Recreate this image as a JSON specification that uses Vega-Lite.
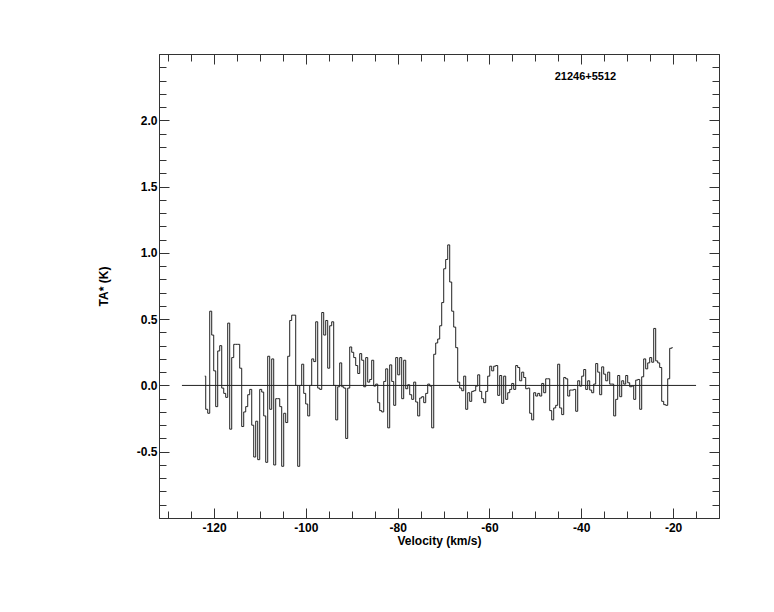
{
  "$schema": "https://vega.github.io/schema/vega-lite/v6.json",
  "width": 560,
  "height": 464,
  "autosize": {"type": "none"},
  "padding": {"left": 159, "top": 54, "right": 55, "bottom": 94},
  "background": "#ffffff",
  "config": {
    "view": {"stroke": null},
    "axis": {
      "grid": false,
      "domainColor": "#333333",
      "domainWidth": 1,
      "tickColor": "#333333",
      "tickWidth": 1,
      "labelFont": "Liberation Sans",
      "labelFontWeight": "bold",
      "labelFontSize": 12,
      "labelColor": "#000000",
      "labelFlush": false,
      "labelOverlap": false,
      "titleFont": "Liberation Sans",
      "titleFontWeight": "bold",
      "titleFontSize": 12,
      "titleColor": "#000000"
    }
  },
  "datasets": {
    "spectrum": [
      {"v": -122.04, "t": 0.07}, {"v": -121.60, "t": -0.18}, {"v": -121.17, "t": -0.21}, {"v": -120.73, "t": 0.56},
      {"v": -120.30, "t": 0.38}, {"v": -119.86, "t": 0.11}, {"v": -119.43, "t": -0.16}, {"v": -118.99, "t": 0.26},
      {"v": -118.55, "t": 0.30}, {"v": -118.12, "t": -0.02}, {"v": -117.68, "t": -0.06}, {"v": -117.25, "t": -0.09},
      {"v": -116.81, "t": 0.47}, {"v": -116.38, "t": -0.33}, {"v": -115.94, "t": 0.21}, {"v": -115.50, "t": 0.31},
      {"v": -115.07, "t": 0.31}, {"v": -114.63, "t": 0.31}, {"v": -114.20, "t": 0.13}, {"v": -113.76, "t": -0.31},
      {"v": -113.33, "t": -0.20}, {"v": -112.89, "t": -0.16}, {"v": -112.45, "t": -0.07}, {"v": -112.02, "t": -0.03},
      {"v": -111.58, "t": -0.30}, {"v": -111.15, "t": -0.54}, {"v": -110.71, "t": -0.27}, {"v": -110.28, "t": -0.56},
      {"v": -109.84, "t": -0.03}, {"v": -109.41, "t": -0.05}, {"v": -108.97, "t": -0.23}, {"v": -108.53, "t": -0.58},
      {"v": -108.10, "t": 0.22}, {"v": -107.66, "t": -0.18}, {"v": -107.23, "t": 0.20}, {"v": -106.79, "t": -0.60},
      {"v": -106.36, "t": -0.10}, {"v": -105.92, "t": -0.10}, {"v": -105.48, "t": -0.16}, {"v": -105.05, "t": -0.61},
      {"v": -104.61, "t": -0.21}, {"v": -104.18, "t": -0.28}, {"v": -103.74, "t": 0.22}, {"v": -103.31, "t": 0.49},
      {"v": -102.87, "t": 0.53}, {"v": -102.43, "t": 0.53}, {"v": -102.00, "t": 0.00}, {"v": -101.56, "t": -0.61},
      {"v": -101.13, "t": 0.00}, {"v": -100.69, "t": 0.16}, {"v": -100.26, "t": -0.06}, {"v": -99.82, "t": -0.14},
      {"v": -99.38, "t": -0.23}, {"v": -98.95, "t": 0.00}, {"v": -98.51, "t": 0.20}, {"v": -98.08, "t": 0.18},
      {"v": -97.64, "t": 0.48}, {"v": -97.21, "t": -0.02}, {"v": -96.77, "t": -0.03}, {"v": -96.33, "t": 0.55},
      {"v": -95.90, "t": 0.38}, {"v": -95.46, "t": 0.49}, {"v": -95.03, "t": 0.13}, {"v": -94.59, "t": 0.45},
      {"v": -94.16, "t": 0.48}, {"v": -93.72, "t": 0.00}, {"v": -93.28, "t": -0.26}, {"v": -92.85, "t": -0.01},
      {"v": -92.41, "t": 0.17}, {"v": -91.98, "t": -0.01}, {"v": -91.54, "t": -0.02}, {"v": -91.11, "t": -0.40},
      {"v": -90.67, "t": -0.02}, {"v": -90.23, "t": 0.29}, {"v": -89.80, "t": 0.25}, {"v": -89.36, "t": 0.21},
      {"v": -88.93, "t": 0.15}, {"v": -88.49, "t": 0.09}, {"v": -88.06, "t": 0.24}, {"v": -87.62, "t": 0.19},
      {"v": -87.18, "t": -0.01}, {"v": -86.75, "t": 0.21}, {"v": -86.31, "t": 0.025}, {"v": -85.88, "t": 0.045},
      {"v": -85.44, "t": 0.19}, {"v": -85.01, "t": -0.005}, {"v": -84.57, "t": 0.01}, {"v": -84.13, "t": -0.13},
      {"v": -83.70, "t": -0.19}, {"v": -83.26, "t": -0.20}, {"v": -82.83, "t": 0.03}, {"v": -82.39, "t": 0.125},
      {"v": -81.96, "t": -0.32}, {"v": -81.52, "t": 0.155}, {"v": -81.08, "t": 0.03}, {"v": -80.65, "t": -0.15},
      {"v": -80.21, "t": 0.21}, {"v": -79.78, "t": 0.08}, {"v": -79.34, "t": 0.21}, {"v": -78.91, "t": -0.10},
      {"v": -78.47, "t": 0.19}, {"v": -78.03, "t": -0.025}, {"v": -77.60, "t": 0.005}, {"v": -77.16, "t": -0.07},
      {"v": -76.73, "t": -0.105}, {"v": -76.29, "t": 0.025}, {"v": -75.86, "t": -0.125}, {"v": -75.42, "t": -0.23},
      {"v": -74.98, "t": -0.095}, {"v": -74.55, "t": -0.085}, {"v": -74.11, "t": -0.13}, {"v": -73.68, "t": -0.06},
      {"v": -73.24, "t": 0.01}, {"v": -72.81, "t": -0.005}, {"v": -72.37, "t": -0.32}, {"v": -71.93, "t": 0.235},
      {"v": -71.50, "t": 0.32}, {"v": -71.06, "t": 0.35}, {"v": -70.63, "t": 0.45}, {"v": -70.19, "t": 0.625},
      {"v": -69.76, "t": 0.88}, {"v": -69.32, "t": 0.95}, {"v": -68.88, "t": 1.06}, {"v": -68.45, "t": 0.78},
      {"v": -68.01, "t": 0.56}, {"v": -67.58, "t": 0.44}, {"v": -67.14, "t": 0.285}, {"v": -66.71, "t": 0.025},
      {"v": -66.27, "t": -0.02}, {"v": -65.83, "t": -0.04}, {"v": -65.40, "t": 0.07}, {"v": -64.96, "t": -0.18},
      {"v": -64.53, "t": -0.055}, {"v": -64.09, "t": -0.12}, {"v": -63.66, "t": -0.045}, {"v": -63.22, "t": -0.04},
      {"v": -62.78, "t": -0.005}, {"v": -62.35, "t": 0.08}, {"v": -61.91, "t": -0.045}, {"v": -61.48, "t": -0.10},
      {"v": -61.04, "t": -0.13}, {"v": -60.61, "t": -0.045}, {"v": -60.17, "t": 0.07}, {"v": -59.73, "t": 0.145},
      {"v": -59.30, "t": 0.11}, {"v": -58.86, "t": 0.145}, {"v": -58.43, "t": 0.15}, {"v": -57.99, "t": -0.075},
      {"v": -57.56, "t": 0.075}, {"v": -57.12, "t": -0.135}, {"v": -56.69, "t": 0.07}, {"v": -56.25, "t": -0.105},
      {"v": -55.81, "t": -0.055}, {"v": -55.38, "t": -0.03}, {"v": -54.94, "t": 0.015}, {"v": -54.51, "t": -0.03},
      {"v": -54.07, "t": 0.15}, {"v": -53.64, "t": 0.135}, {"v": -53.20, "t": 0.035}, {"v": -52.76, "t": 0.10},
      {"v": -52.33, "t": 0.06}, {"v": -51.89, "t": -0.025}, {"v": -51.46, "t": -0.02}, {"v": -51.02, "t": -0.21},
      {"v": -50.59, "t": -0.26}, {"v": -50.15, "t": -0.055}, {"v": -49.71, "t": -0.08}, {"v": -49.28, "t": -0.06},
      {"v": -48.84, "t": -0.08}, {"v": -48.41, "t": 0.015}, {"v": -47.97, "t": -0.055}, {"v": -47.54, "t": 0.05},
      {"v": -47.10, "t": 0.05}, {"v": -46.66, "t": -0.19}, {"v": -46.23, "t": -0.26}, {"v": -45.79, "t": -0.17},
      {"v": -45.36, "t": -0.15}, {"v": -44.92, "t": 0.16}, {"v": -44.49, "t": -0.17}, {"v": -44.05, "t": -0.22},
      {"v": -43.61, "t": 0.06}, {"v": -43.18, "t": 0.05}, {"v": -42.74, "t": -0.08}, {"v": -42.31, "t": -0.035},
      {"v": -41.87, "t": -0.035}, {"v": -41.44, "t": -0.03}, {"v": -41.00, "t": -0.195}, {"v": -40.56, "t": 0.035},
      {"v": -40.13, "t": -0.005}, {"v": -39.69, "t": 0.07}, {"v": -39.26, "t": 0.12}, {"v": -38.82, "t": -0.03},
      {"v": -38.39, "t": 0.035}, {"v": -37.95, "t": -0.035}, {"v": -37.51, "t": -0.055}, {"v": -37.08, "t": 0.01},
      {"v": -36.64, "t": 0.165}, {"v": -36.21, "t": 0.10}, {"v": -35.77, "t": -0.07}, {"v": -35.34, "t": 0.14},
      {"v": -34.90, "t": 0.085}, {"v": -34.46, "t": 0.035}, {"v": -34.03, "t": 0.10}, {"v": -33.59, "t": 0.01},
      {"v": -33.16, "t": 0.01}, {"v": -32.72, "t": -0.23}, {"v": -32.29, "t": -0.105}, {"v": -31.85, "t": 0.075},
      {"v": -31.41, "t": -0.085}, {"v": -30.98, "t": 0.035}, {"v": -30.54, "t": 0.01}, {"v": -30.11, "t": 0.075},
      {"v": -29.67, "t": 0.02}, {"v": -29.24, "t": -0.01}, {"v": -28.80, "t": -0.005}, {"v": -28.36, "t": -0.105},
      {"v": -27.93, "t": 0.04}, {"v": -27.49, "t": 0.045}, {"v": -27.06, "t": -0.18}, {"v": -26.62, "t": 0.065},
      {"v": -26.19, "t": 0.20}, {"v": -25.75, "t": 0.125}, {"v": -25.31, "t": 0.17}, {"v": -24.88, "t": 0.21},
      {"v": -24.44, "t": 0.175}, {"v": -24.01, "t": 0.43}, {"v": -23.57, "t": 0.185}, {"v": -23.14, "t": 0.17},
      {"v": -22.70, "t": 0.135}, {"v": -22.26, "t": -0.12}, {"v": -21.83, "t": -0.145}, {"v": -21.39, "t": -0.15},
      {"v": -20.96, "t": 0.05}, {"v": -20.52, "t": 0.28}, {"v": -20.09, "t": 0.285}
    ],
    "baseline": [{"v": -127, "v2": -15, "t": 0}],
    "label": [{"v": -39.1, "t": 2.33, "name": "21246+5512"}]
  },
  "resolve": {"axis": {"x": "independent", "y": "independent"}},
  "layer": [
    {
      "data": {"name": "spectrum"},
      "mark": {"type": "line", "interpolate": "step", "stroke": "#222222", "strokeWidth": 1},
      "encoding": {
        "x": {
          "field": "v", "type": "quantitative",
          "scale": {"domain": [-132, -10], "nice": false, "zero": false},
          "axis": {
            "orient": "bottom", "values": [-120, -100, -80, -60, -40, -20],
            "tickSize": -10, "labelPadding": 14,
            "labelExpr": "datum.value < 0 ? '-' + format(-datum.value, 'd') : format(datum.value, 'd')",
            "title": "Velocity (km/s)", "titlePadding": 2
          }
        },
        "y": {
          "field": "t", "type": "quantitative",
          "scale": {"domain": [-1.0, 2.5], "nice": false, "zero": false},
          "axis": {
            "orient": "left", "values": [-0.5, 0, 0.5, 1, 1.5, 2],
            "tickSize": -10, "labelPadding": 12,
            "labelExpr": "datum.value < 0 ? '-' + format(-datum.value, '.1f') : format(datum.value, '.1f')",
            "title": "TA* (K)", "titlePadding": 26
          }
        }
      }
    },
    {
      "data": {"name": "baseline"},
      "mark": {"type": "rule", "stroke": "#222222", "strokeWidth": 1},
      "encoding": {
        "x": {
          "field": "v", "type": "quantitative",
          "axis": {
            "orient": "bottom",
            "values": [-130, -125, -120, -115, -110, -105, -100, -95, -90, -85, -80, -75, -70, -65, -60, -55, -50, -45, -40, -35, -30, -25, -20, -15],
            "tickSize": -7, "labels": false, "title": null
          }
        },
        "x2": {"field": "v2"},
        "y": {
          "field": "t", "type": "quantitative",
          "axis": {
            "orient": "left",
            "values": [-0.9, -0.8, -0.7, -0.6, -0.5, -0.4, -0.3, -0.2, -0.1, 0, 0.1, 0.2, 0.3, 0.4, 0.5, 0.6, 0.7, 0.8, 0.9, 1.0, 1.1, 1.2, 1.3, 1.4, 1.5, 1.6, 1.7, 1.8, 1.9, 2.0, 2.1, 2.2, 2.3, 2.4],
            "tickSize": -7, "labels": false, "title": null
          }
        }
      }
    },
    {
      "data": {"name": "label"},
      "mark": {"type": "text", "font": "Liberation Sans", "fontWeight": "bold", "fontSize": 11, "align": "center", "baseline": "middle", "color": "#000000"},
      "encoding": {
        "x": {
          "field": "v", "type": "quantitative",
          "axis": {"orient": "top", "values": [-120, -100, -80, -60, -40, -20], "tickSize": -10, "labels": false, "title": null}
        },
        "y": {
          "field": "t", "type": "quantitative",
          "axis": {"orient": "right", "values": [-0.5, 0, 0.5, 1, 1.5, 2], "tickSize": -10, "labels": false, "title": null}
        },
        "text": {"field": "name"}
      }
    },
    {
      "data": {"name": "label"},
      "mark": {"type": "point", "opacity": 0},
      "encoding": {
        "x": {
          "field": "v", "type": "quantitative",
          "axis": {
            "orient": "top",
            "values": [-130, -125, -120, -115, -110, -105, -100, -95, -90, -85, -80, -75, -70, -65, -60, -55, -50, -45, -40, -35, -30, -25, -20, -15],
            "tickSize": -7, "labels": false, "title": null
          }
        },
        "y": {
          "field": "t", "type": "quantitative",
          "axis": {
            "orient": "right",
            "values": [-0.9, -0.8, -0.7, -0.6, -0.5, -0.4, -0.3, -0.2, -0.1, 0, 0.1, 0.2, 0.3, 0.4, 0.5, 0.6, 0.7, 0.8, 0.9, 1.0, 1.1, 1.2, 1.3, 1.4, 1.5, 1.6, 1.7, 1.8, 1.9, 2.0, 2.1, 2.2, 2.3, 2.4],
            "tickSize": -7, "labels": false, "title": null
          }
        }
      }
    }
  ]
}
